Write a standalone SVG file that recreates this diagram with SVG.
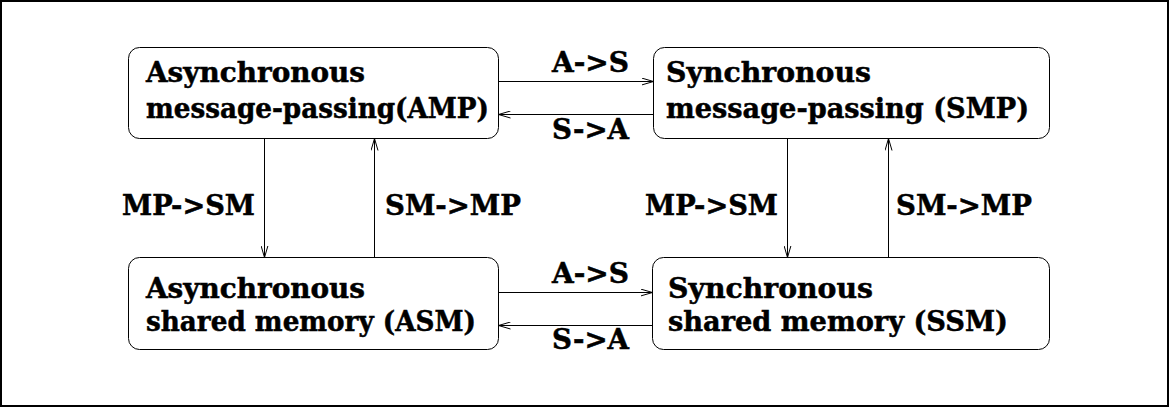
<svg xmlns="http://www.w3.org/2000/svg" width="1170" height="408" viewBox="0 0 1170 408">
<defs>
<style>
.box{fill:#fff;stroke:#000;stroke-width:1}
.t{font-family:"DejaVu Serif","Liberation Serif",serif;font-weight:bold;font-size:27px;fill:#000;stroke:#000;stroke-width:0.5}
.c{stroke:#000;stroke-width:1;fill:none}
</style>
<marker id="ah" viewBox="0 0 12 8" refX="12" refY="4" markerWidth="12" markerHeight="8" markerUnits="userSpaceOnUse" orient="auto">
<path d="M0,0.5 L12,4 L0,7.5" fill="none" stroke="#000" stroke-width="1"/>
</marker>
</defs>
<rect x="1" y="1" width="1167" height="405" fill="#fff" stroke="#000" stroke-width="2"/>
<g id="amp">
<rect class="box" x="128.5" y="47.5" width="370" height="91" rx="11"/>
<text class="t" x="146" y="82" textLength="219" lengthAdjust="spacingAndGlyphs">Asynchronous</text>
<text class="t" x="146" y="118" textLength="343" lengthAdjust="spacingAndGlyphs">message-passing(AMP)</text>
</g>
<g id="smp">
<rect class="box" x="653.5" y="47.5" width="396" height="91" rx="11"/>
<text class="t" x="666" y="82" textLength="205" lengthAdjust="spacingAndGlyphs">Synchronous</text>
<text class="t" x="666" y="118" textLength="363" lengthAdjust="spacingAndGlyphs">message-passing (SMP)</text>
</g>
<g id="asm">
<rect class="box" x="128.5" y="257.5" width="370" height="92" rx="11"/>
<text class="t" x="146" y="298" textLength="219" lengthAdjust="spacingAndGlyphs">Asynchronous</text>
<text class="t" x="146" y="331" textLength="330" lengthAdjust="spacingAndGlyphs">shared memory (ASM)</text>
</g>
<g id="ssm">
<rect class="box" x="652.5" y="257.5" width="397" height="92" rx="11"/>
<text class="t" x="668" y="298" textLength="205" lengthAdjust="spacingAndGlyphs">Synchronous</text>
<text class="t" x="668" y="331" textLength="340" lengthAdjust="spacingAndGlyphs">shared memory (SSM)</text>
</g>
<g id="connectors">
<line class="c" x1="498.5" y1="81.5" x2="653.5" y2="81.5" marker-end="url(#ah)"/>
<line class="c" x1="653.5" y1="114.5" x2="498.5" y2="114.5" marker-end="url(#ah)"/>
<line class="c" x1="498.5" y1="292.5" x2="652.5" y2="292.5" marker-end="url(#ah)"/>
<line class="c" x1="652.5" y1="325.5" x2="498.5" y2="325.5" marker-end="url(#ah)"/>
<line class="c" x1="264.5" y1="138.5" x2="264.5" y2="257.5" marker-end="url(#ah)"/>
<line class="c" x1="374.5" y1="257.5" x2="374.5" y2="138.5" marker-end="url(#ah)"/>
<line class="c" x1="787.5" y1="138.5" x2="787.5" y2="257.5" marker-end="url(#ah)"/>
<line class="c" x1="888.5" y1="257.5" x2="888.5" y2="138.5" marker-end="url(#ah)"/>
<text class="t" x="552" y="72" textLength="77" lengthAdjust="spacingAndGlyphs">A-&gt;S</text>
<text class="t" x="552" y="139" textLength="77" lengthAdjust="spacingAndGlyphs">S-&gt;A</text>
<text class="t" x="552" y="283" textLength="77" lengthAdjust="spacingAndGlyphs">A-&gt;S</text>
<text class="t" x="552" y="349" textLength="77" lengthAdjust="spacingAndGlyphs">S-&gt;A</text>
<text class="t" x="122" y="215" textLength="133" lengthAdjust="spacingAndGlyphs">MP-&gt;SM</text>
<text class="t" x="385" y="215" textLength="136" lengthAdjust="spacingAndGlyphs">SM-&gt;MP</text>
<text class="t" x="645" y="215" textLength="133" lengthAdjust="spacingAndGlyphs">MP-&gt;SM</text>
<text class="t" x="896" y="215" textLength="136" lengthAdjust="spacingAndGlyphs">SM-&gt;MP</text>
</g>
</svg>
